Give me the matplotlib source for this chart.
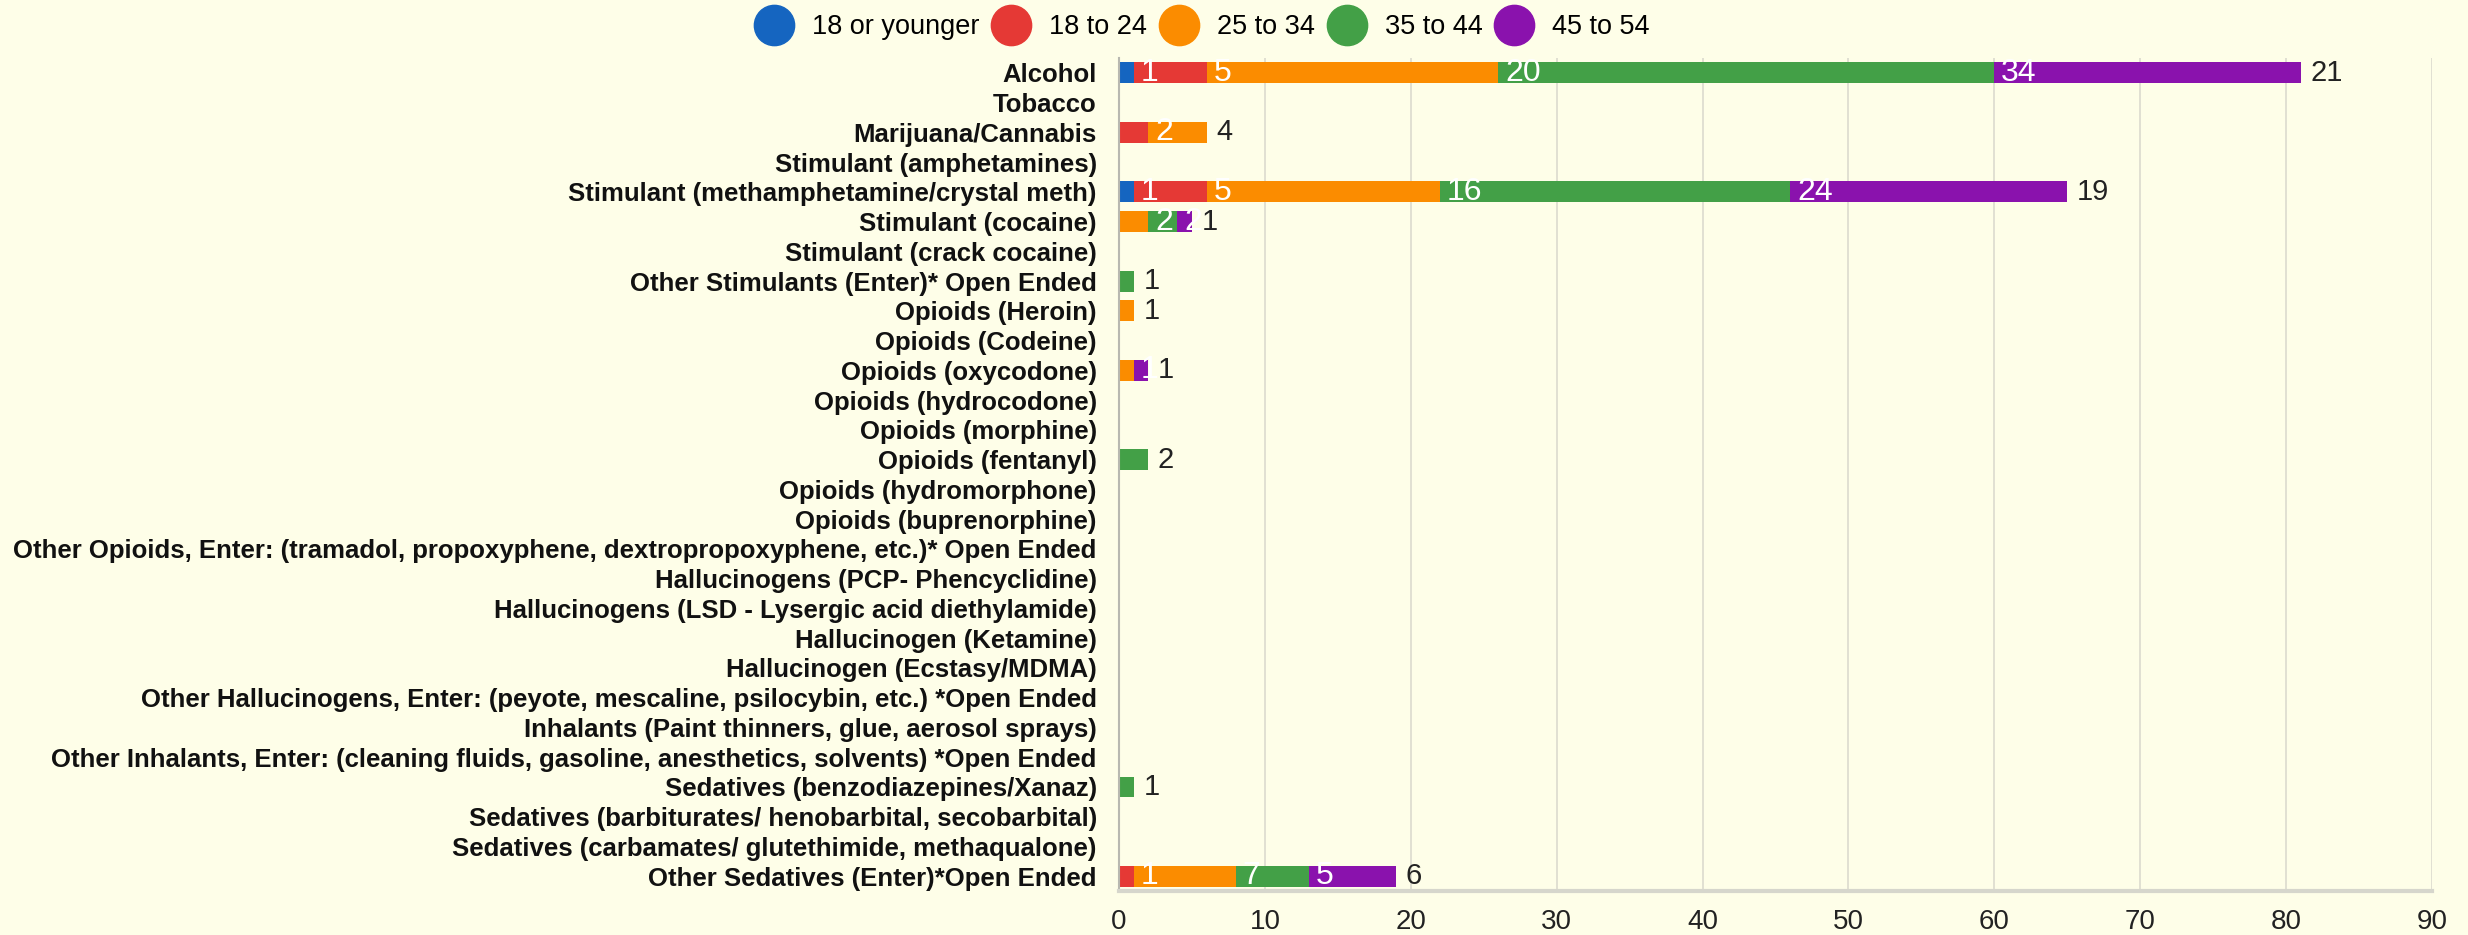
import matplotlib
matplotlib.use("Agg")
import matplotlib.pyplot as plt
from matplotlib.lines import Line2D
import numpy as np

plt.rcParams['font.family'] = ['Liberation Sans', 'DejaVu Sans']

categories = [
    "Alcohol", "Tobacco", "Marijuana/Cannabis", "Stimulant (amphetamines)",
    "Stimulant (methamphetamine/crystal meth)", "Stimulant (cocaine)",
    "Stimulant (crack cocaine)", "Other Stimulants (Enter)* Open Ended",
    "Opioids (Heroin)", "Opioids (Codeine)", "Opioids (oxycodone)",
    "Opioids (hydrocodone)", "Opioids (morphine)", "Opioids (fentanyl)",
    "Opioids (hydromorphone)", "Opioids (buprenorphine)",
    "Other Opioids, Enter: (tramadol, propoxyphene, dextropropoxyphene, etc.)* Open Ended",
    "Hallucinogens (PCP- Phencyclidine)",
    "Hallucinogens (LSD - Lysergic acid diethylamide)",
    "Hallucinogen (Ketamine)", "Hallucinogen (Ecstasy/MDMA)",
    "Other Hallucinogens, Enter: (peyote, mescaline, psilocybin, etc.) *Open Ended",
    "Inhalants (Paint thinners, glue, aerosol sprays)",
    "Other Inhalants, Enter: (cleaning fluids, gasoline, anesthetics, solvents) *Open Ended",
    "Sedatives (benzodiazepines/Xanaz)",
    "Sedatives (barbiturates/ henobarbital, secobarbital)",
    "Sedatives (carbamates/ glutethimide, methaqualone)",
    "Other Sedatives (Enter)*Open Ended",
]

series_names = ["18 or younger", "18 to 24", "25 to 34", "35 to 44", "45 to 54"]
colors = ["#1565c0", "#e53935", "#fb8c00", "#43a047", "#8a12ad"]

#            Alc Tob Mar Amp Met Coc Crk OSt Her Cod Oxy Hyd Mor Fen Hym Bup OOp PCP LSD Ket Ecs OHa Inh OIn Ben Bar Car OSe
young    = [1,  0,  0,  0,  1,  0,  0,  0,  0,  0,  0,  0,  0,  0,  0,  0,  0,  0,  0,  0,  0,  0,  0,  0,  0,  0,  0,  0]
age18_24 = [5,  0,  2,  0,  5,  0,  0,  0,  0,  0,  0,  0,  0,  0,  0,  0,  0,  0,  0,  0,  0,  0,  0,  0,  0,  0,  0,  1]
age25_34 = [20, 0,  4,  0,  16, 2,  0,  0,  1,  0,  1,  0,  0,  0,  0,  0,  0,  0,  0,  0,  0,  0,  0,  0,  0,  0,  0,  7]
age35_44 = [34, 0,  0,  0,  24, 2,  0,  1,  0,  0,  0,  0,  0,  2,  0,  0,  0,  0,  0,  0,  0,  0,  0,  0,  1,  0,  0,  5]
age45_54 = [21, 0,  0,  0,  19, 1,  0,  0,  0,  0,  1,  0,  0,  0,  0,  0,  0,  0,  0,  0,  0,  0,  0,  0,  0,  0,  0,  6]

data = np.array([young, age18_24, age25_34, age35_44, age45_54])
bg = "#fefee8"

fig = plt.figure(figsize=(24.68, 9.35), dpi=100, facecolor=bg)
ax = fig.add_axes([0.4534, 0.047, 0.9854 - 0.4534, 0.891])
ax.set_facecolor(bg)

y = np.arange(len(categories))
left = np.zeros(len(categories))
for i in range(len(series_names)):
    ax.barh(y, data[i], left=left, height=0.7, color=colors[i], zorder=2)
    left += data[i]

# value labels: each segment's value at its right end
for j in range(len(categories)):
    vals = data[:, j]
    nz = [i for i in range(len(vals)) if vals[i] > 0]
    cum = 0
    for i in range(len(vals)):
        if vals[i] == 0:
            continue
        cum += vals[i]
        if i == nz[-1]:
            ax.annotate(str(vals[i]), (cum, j), xytext=(7, 0), textcoords='offset points',
                        ha='left', va='center', fontsize=21, color='#222222', zorder=4)
        else:
            ax.annotate(str(vals[i]), (cum, j), xytext=(5, 0), textcoords='offset points',
                        ha='left', va='center', fontsize=23, color='white', zorder=4)

ax.set_xlim(0, 90)
ax.set_ylim(len(categories) - 0.5, -0.5)
ax.set_xticks(np.arange(0, 91, 10))
ax.set_yticks(y)
ax.set_yticklabels(categories, fontsize=18.5, fontweight='bold', color='#111111')
ax.tick_params(axis='y', length=0, pad=16)
ax.tick_params(axis='x', length=0, pad=13, labelsize=20, labelcolor='#222222')
ax.grid(axis='x', color='#dcdace', linewidth=1.2, zorder=0)
for s in ['top', 'right']:
    ax.spines[s].set_visible(False)
ax.spines['left'].set_color('#b8b8b0')
ax.spines['left'].set_linewidth(1.5)
ax.spines['bottom'].set_color('#d6d6cc')
ax.spines['bottom'].set_linewidth(3)

handles = [Line2D([], [], marker='o', linestyle='none', markersize=29,
                  markerfacecolor=c, markeredgecolor=c) for c in colors]
fig.legend(handles, series_names, loc='center', ncol=5,
           bbox_to_anchor=(1205 / 2468, 1 - 27 / 935), frameon=False,
           fontsize=19.5, handlelength=1.0, handletextpad=0.9, columnspacing=0.68)

fig.savefig("out.png", dpi=100, facecolor=bg)
